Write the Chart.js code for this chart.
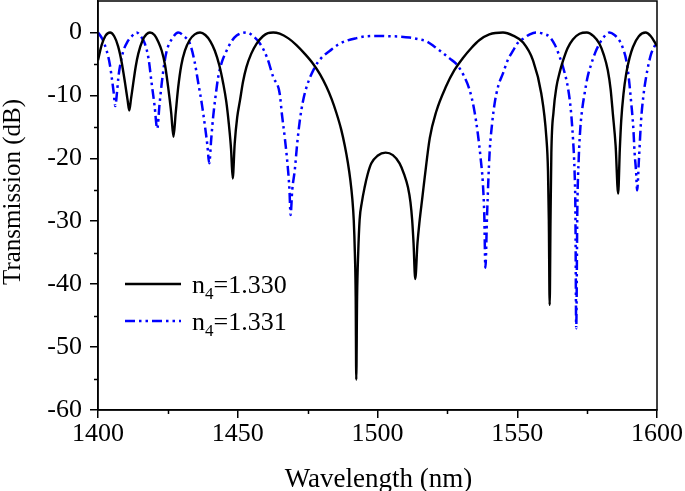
<!DOCTYPE html>
<html>
<head>
<meta charset="utf-8">
<script src="https://cdn.jsdelivr.net/npm/chart.js@4.4.0/dist/chart.umd.min.js"></script>
<style>
  html, body { margin: 0; padding: 0; background: #fff; }
  #wrap { width: 685px; height: 491px; }
</style>
</head>
<body>
<div id="wrap"><canvas id="chart" width="685" height="491"></canvas></div>
<script>
// values: wavelength (nm) and transmission (dB)
const blackWl = [1400.0, 1401.3, 1402.7, 1404.3, 1405.8, 1407.2, 1408.5, 1409.7, 1410.6, 1411.2, 1411.8, 1412.6, 1413.5, 1414.4, 1416.0, 1417.3, 1418.6,
  1420.2, 1421.6, 1422.8, 1424.0, 1425.1, 1426.2, 1427.0, 1427.8, 1428.7, 1429.8, 1431.1, 1432.8, 1434.6, 1436.5,
  1438.4, 1440.2, 1441.8, 1443.4, 1444.8, 1445.9, 1446.8, 1447.6, 1448.2, 1448.9, 1449.8, 1450.8, 1451.9, 1453.1, 1454.8, 1456.7, 1459.0, 1460.8, 1462.7,
  1465.0, 1468.0, 1471.0, 1474.0, 1477.0, 1479.5, 1481.7, 1483.6, 1485.3, 1487.0, 1488.3, 1489.4, 1490.3, 1491.0, 1491.5, 1491.9, 1492.2, 1492.4,
  1492.7, 1493.1, 1493.6, 1494.4, 1495.4, 1496.5, 1497.8, 1500.0, 1502.9, 1505.5, 1507.9, 1509.5, 1510.9, 1511.8, 1512.4, 1512.9, 1513.5,
  1514.3, 1515.1, 1516.0, 1516.9, 1518.7, 1521.0, 1524.5, 1527.5, 1530.5, 1533.5, 1536.5, 1540.0, 1544.9,
  1548.5, 1552.1, 1555.6, 1558.6, 1560.4, 1561.0, 1561.3, 1561.6, 1561.9, 1562.2, 1563.0, 1564.0, 1565.2, 1566.3, 1568.0, 1569.9, 1572.3, 1574.9,
  1577.3, 1579.4, 1581.0, 1582.4, 1583.4, 1584.2, 1585.2, 1586.1, 1586.7, 1587.2, 1588.0, 1589.0, 1590.2, 1591.4, 1593.5, 1595.9, 1597.8, 1599.5, 1600.0];
const blackDb = [-4.4, -2.0, -0.5, 0, -0.6, -2.2, -4.8, -8.1, -10.8, -12.4, -10.6, -8.1, -5.4, -3.4, -1.2, -0.3, 0,
  -0.4, -1.5, -2.9, -5.2, -8.7, -12.8, -16.6, -12.8, -8.7, -5.2, -2.9, -1.2, -0.3, 0,
  -0.4, -1.4, -2.9, -5.2, -8.1, -11.0, -14.5, -18.5, -23.2, -17.7, -13.5, -10.8, -7.8, -5.5, -3.4, -1.8, -0.6, -0.1, 0,
  -0.2, -0.9, -2.0, -3.4, -5.0, -6.7, -8.6, -10.6, -12.8, -15.4, -18.0, -20.7, -23.5, -26.5, -29.8, -35.0, -42.0, -55.2,
  -42.0, -35.0, -29.8, -27.0, -24.6, -22.5, -20.8, -19.6, -19.1, -19.5, -20.8, -22.5, -24.6, -27.0, -29.8, -33.5, -39.2,
  -33.5, -29.8, -26.4, -23.0, -16.8, -12.6, -8.6, -6.0, -4.1, -2.5, -1.2, -0.3, 0,
  -0.5, -1.6, -4.4, -9.7, -16.6, -22.0, -29.8, -43.3, -29.8, -19.2, -12.5, -8.7, -6.3, -4.6, -2.5, -1.1, -0.2, 0,
  -0.6, -1.8, -3.6, -6.0, -9.0, -12.9, -18.0, -25.6, -18.5, -14.0, -9.8, -6.5, -4.0, -2.3, -0.6, 0, -0.6, -1.8, -2.2];

const blueWl = [1400.0, 1401.5, 1403.1, 1404.2, 1404.9, 1405.6, 1406.2, 1406.8, 1407.3, 1408.1, 1409.1, 1410.5, 1412.1, 1413.8,
  1415.3, 1416.8, 1418.1, 1419.2, 1420.2, 1421.2, 1422.0, 1422.8, 1423.7, 1424.6, 1426.5, 1428.7,
  1430.8, 1432.9, 1434.5, 1435.9, 1437.2, 1438.3, 1439.1, 1439.8, 1440.5, 1441.2, 1442.1, 1443.0, 1444.4, 1446.0, 1447.8, 1449.6, 1453.2,
  1455.6, 1458.0, 1460.5, 1462.7, 1465.0, 1465.8, 1466.8, 1468.0, 1468.5, 1468.9, 1469.5, 1470.4, 1471.3, 1472.2, 1473.3, 1474.6, 1477.6,
  1480.0, 1483.0, 1486.0, 1489.0, 1492.5, 1496.1, 1500.0, 1504.4, 1508.0, 1511.5, 1515.0, 1517.5, 1520.5, 1523.5, 1526.0, 1528.2,
  1530.8, 1533.0, 1534.6, 1535.9, 1536.9, 1537.7, 1538.2, 1538.6, 1539.2, 1540.1, 1541.0, 1541.9, 1543.2, 1544.9, 1546.5, 1548.5,
  1550.3, 1552.1, 1554.5, 1556.8, 1559.2, 1561.6, 1563.5, 1565.2, 1566.7, 1568.1, 1569.1, 1569.9, 1570.5, 1570.8, 1571.1,
  1571.5, 1572.0, 1572.6, 1573.3, 1574.1, 1575.2, 1576.5, 1577.9, 1579.4, 1581.2, 1583.0, 1584.8, 1586.6, 1587.9, 1589.0,
  1589.9, 1590.8, 1591.5, 1592.0, 1592.5, 1592.9, 1593.5, 1594.3, 1595.1, 1596.1, 1597.0, 1597.9, 1599.0, 1600.0];
const blueDb = [0, -1.0, -2.9, -5.0, -7.1, -9.5, -11.7, -9.5, -7.1, -4.8, -2.9, -1.5, -0.6, 0,
  -0.6, -1.8, -4.2, -8.1, -11.5, -15.3, -11.5, -8.1, -5.0, -2.9, -1.0, 0,
  -0.6, -1.8, -4.5, -8.1, -11.5, -15.0, -17.8, -20.8, -17.0, -13.4, -10.0, -7.1, -4.6, -2.9, -1.4, -0.5, 0,
  -0.6, -1.8, -4.0, -7.1, -9.7, -13.0, -16.6, -21.9, -25.0, -29.0, -25.0, -21.9, -17.5, -14.0, -11.0, -8.7, -5.5,
  -4.0, -2.9, -1.9, -1.3, -0.9, -0.6, -0.55, -0.6, -0.65, -0.8, -1.1, -1.4, -2.3, -3.3, -4.2, -5.0,
  -6.8, -9.2, -12.3, -16.1, -20.0, -24.0, -29.0, -37.4, -29.0, -19.2, -14.5, -11.3, -8.5, -6.5, -4.5, -2.9,
  -1.6, -1.0, -0.3, 0, -0.2, -0.7, -2.0, -3.9, -6.0, -8.7, -12.0, -16.6, -22.0, -28.0, -47.0,
  -28.0, -20.0, -15.0, -12.0, -9.7, -7.0, -5.0, -3.2, -1.8, -0.6, 0, -0.4, -1.3, -2.6, -4.4,
  -7.2, -11.3, -15.0, -19.2, -22.0, -25.1, -20.5, -14.0, -10.2, -7.1, -5.0, -3.4, -2.3, -1.4];

const seriesNames = ["1.330", "1.331"];
const xTicks = [1400, 1450, 1500, 1550, 1600];
const xMinor = [1425, 1475, 1525, 1575];
const yTicks = [-60, -50, -40, -30, -20, -10, 0];
const yMinor = [-55, -45, -35, -25, -15, -5];

const serif = '"Liberation Serif", "Times New Roman", serif';
const blueDash = [10, 4, 2.5, 4, 2.5, 4];

// extra drawing: frame, minor ticks, axis titles and the legend with a subscript
const framePlugin = {
  id: "frame",
  afterDatasetsDraw(chart) {
    const ctx = chart.ctx;
    const area = chart.chartArea;
    const xs = chart.scales.x;
    const ys = chart.scales.y;
    ctx.save();
    ctx.strokeStyle = "#000";
    ctx.lineWidth = 1.5;
    ctx.strokeRect(area.left, area.top, area.right - area.left, area.bottom - area.top);

    ctx.beginPath();
    xMinor.forEach((v) => {
      const px = Math.round(xs.getPixelForValue(v)) + 0.5;
      ctx.moveTo(px, area.bottom);
      ctx.lineTo(px, area.bottom + 4);
    });
    yMinor.forEach((v) => {
      const py = Math.round(ys.getPixelForValue(v)) + 0.5;
      ctx.moveTo(area.left, py);
      ctx.lineTo(area.left - 4, py);
    });
    ctx.stroke();

    // axis titles
    ctx.fillStyle = "#000";
    ctx.textAlign = "center";
    ctx.textBaseline = "alphabetic";
    ctx.font = "27px " + serif;
    ctx.fillText("Wavelength (nm)", (area.left + area.right) / 2 + 1, 487);
    ctx.save();
    ctx.translate(20, 192);
    ctx.rotate(-Math.PI / 2);
    ctx.font = "25px " + serif;
    ctx.fillText("Transmission (dB)", 0, 0);
    ctx.restore();

    // legend
    const rows = [
      { y: area.top + 283, color: "#000", dash: [], width: 2.4 },
      { y: area.top + 320, color: "#0000ff", dash: blueDash, width: 2.5 },
    ];
    rows.forEach((row, i) => {
      ctx.beginPath();
      ctx.setLineDash(row.dash);
      ctx.lineWidth = row.width;
      ctx.strokeStyle = row.color;
      ctx.moveTo(area.left + 27, row.y);
      ctx.lineTo(area.left + 83, row.y);
      ctx.stroke();
      ctx.setLineDash([]);

      let tx = area.left + 94;
      const base = row.y + 9;
      ctx.textAlign = "left";
      ctx.fillStyle = "#000";
      ctx.font = "26px " + serif;
      ctx.fillText("n", tx, base);
      tx += ctx.measureText("n").width;
      ctx.font = "17px " + serif;
      ctx.fillText("4", tx, base + 6);
      tx += ctx.measureText("4").width;
      ctx.font = "26px " + serif;
      ctx.fillText("=" + seriesNames[i], tx, base);
    });
    ctx.restore();
  },
};

const toPoints = (xsArr, ysArr) => xsArr.map((x, i) => ({ x: x, y: ysArr[i] }));

new Chart(document.getElementById("chart"), {
  type: "line",
  data: {
    datasets: [
      {
        label: "n4=" + seriesNames[0],
        data: toPoints(blackWl, blackDb),
        borderColor: "#000",
        borderWidth: 2.4,
        pointRadius: 0,
        fill: false,
        cubicInterpolationMode: "monotone",
      },
      {
        label: "n4=" + seriesNames[1],
        data: toPoints(blueWl, blueDb),
        borderColor: "#0000ff",
        borderWidth: 2.5,
        borderDash: blueDash,
        pointRadius: 0,
        fill: false,
        cubicInterpolationMode: "monotone",
      },
    ],
  },
  options: {
    responsive: false,
    animation: false,
    devicePixelRatio: 1,
    layout: { padding: { top: 1, right: 28, left: 0, bottom: 0 } },
    plugins: { legend: { display: false }, tooltip: { enabled: false } },
    scales: {
      x: {
        type: "linear",
        min: 1400,
        max: 1600,
        afterBuildTicks: (scale) => {
          scale.ticks = xTicks.map((v) => ({ value: v }));
        },
        afterFit: (scale) => {
          scale.height = 81;
          scale.paddingLeft = 0;
          scale.paddingRight = 0;
        },
        grid: { drawOnChartArea: false, drawTicks: true, tickLength: 8, color: "#000", lineWidth: 1.5 },
        border: { display: true, color: "#000", width: 1.5 },
        ticks: {
          color: "#000",
          font: { family: serif, size: 26 },
          padding: 1,
          maxRotation: 0,
          autoSkip: false,
          callback: (v) => String(v),
        },
      },
      y: {
        type: "linear",
        min: -60,
        max: 5,
        afterBuildTicks: (scale) => {
          scale.ticks = yTicks.map((v) => ({ value: v }));
        },
        afterFit: (scale) => {
          scale.width = 98;
          scale.paddingTop = 0;
          scale.paddingBottom = 0;
        },
        grid: { drawOnChartArea: false, drawTicks: true, tickLength: 8, color: "#000", lineWidth: 1.5 },
        border: { display: true, color: "#000", width: 1.5 },
        ticks: { color: "#000", font: { family: serif, size: 26 }, padding: 8, callback: (v) => String(v) },
      },
    },
  },
  plugins: [framePlugin],
});
</script>
</body>
</html>
